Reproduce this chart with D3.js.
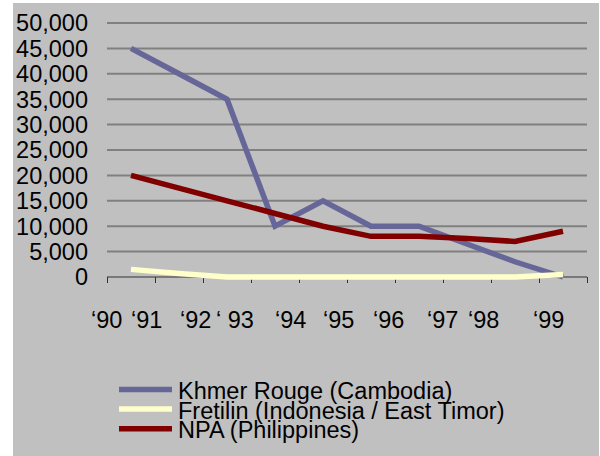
<!DOCTYPE html>
<html>
<head>
<meta charset="utf-8">
<script src="https://cdn.jsdelivr.net/npm/d3@7"></script>
<style>
  body { margin: 0; background: #fff; }
  text { font-family: "Liberation Sans", Arial, sans-serif; fill: #000; }
</style>
</head>
<body>
<div id="wrapper"></div>
<script>
/// Data ///
const categories = ["1990", "1991", "1992", "1993", "1994", "1995", "1996", "1997", "1998", "1999"];
const khmerRouge = [45000, 40000, 35000, 10000, 15000, 10000, 10000, 6500, 3000, 0];
const fretilin   = [1500, 700, 0, 0, 0, 0, 0, 0, 0, 500];
const npa        = [20000, 17500, 15000, 12500, 10000, 8000, 8000, 7600, 7000, 9000];
const seriesNames = ["Khmer Rouge (Cambodia)", "Fretilin (Indonesia / East Timor)", "NPA (Philippines)"];
const yTicks = [0, 5000, 10000, 15000, 20000, 25000, 30000, 35000, 40000, 45000, 50000];
const xLabels = ["\u201890", "\u201891", "\u201892", "\u2018 93", "\u201894", "\u201895", "\u201896", "\u201897", "\u201898", "\u201899"];

/// Layout ///
const width = 600;
const height = 456;
const plot = { left: 107, right: 587, top: 23, bottom: 277 };
// the year labels sit in a text box that doesn't line up with the ticks
const xLabelLeft = [91, 131, 180, 216, 275, 323, 373, 427, 468, 533];
const colours = ["#666699", "#ffffcc", "#800000"];
const fontSize = 23.5;

const svg = d3.select("#wrapper").append("svg")
  .attr("width", width)
  .attr("height", height);

svg.append("rect")
  .attr("x", 13).attr("y", 3)
  .attr("width", 586).attr("height", height - 3)
  .attr("fill", "#c0c0c0");

/// Scales ///
const x = d3.scaleBand()
  .domain(categories)
  .range([plot.left, plot.right]);
const y = d3.scaleLinear()
  .domain([0, 50000])
  .range([plot.bottom, plot.top]);

/// Gridlines ///
svg.append("g")
  .selectAll("line")
  .data(yTicks.filter(d => d > 0))
  .join("line")
    .attr("x1", plot.left).attr("x2", plot.right)
    .attr("y1", d => y(d)).attr("y2", d => y(d))
    .attr("stroke", "#808080")
    .attr("stroke-width", 2);

/// Y labels ///
svg.append("g")
  .selectAll("text")
  .data(yTicks)
  .join("text")
    .attr("x", 88)
    .attr("y", d => y(d))
    .attr("dy", "0.36em")
    .attr("text-anchor", "end")
    .style("font-size", fontSize + "px")
    .text(d3.format(","));

/// X axis ///
const tickXs = categories.map(c => x(c)).concat([x(categories[categories.length - 1]) + x.bandwidth()]);
const axis = svg.append("g");
axis.append("line")
  .attr("x1", plot.left).attr("x2", plot.right)
  .attr("y1", y(0)).attr("y2", y(0))
  .attr("stroke", "#333")
  .attr("stroke-width", 1);
axis.selectAll(".tick")
  .data(tickXs)
  .join("line")
    .attr("class", "tick")
    .attr("x1", d => Math.round(d) + 0.5).attr("x2", d => Math.round(d) + 0.5)
    .attr("y1", y(0)).attr("y2", y(0) + 6)
    .attr("stroke", "#333");

svg.append("g")
  .selectAll("text")
  .data(xLabels)
  .join("text")
    .attr("x", (d, i) => xLabelLeft[i])
    .attr("y", 328)
    .style("font-size", fontSize + "px")
    .text(d => d);

/// Lines ///
const line = d3.line()
  .x((d, i) => x(categories[i]) + x.bandwidth() / 2)
  .y(d => y(d));

svg.append("g")
  .selectAll("path")
  .data([khmerRouge, fretilin, npa])
  .join("path")
    .attr("d", line)
    .attr("fill", "none")
    .attr("stroke", (d, i) => colours[i])
    .attr("stroke-width", 5.5);

/// Legend ///
const legend = svg.append("g")
  .selectAll("g")
  .data(seriesNames)
  .join("g")
    .attr("transform", (d, i) => `translate(0, ${389.5 + i * 19.6})`);
legend.append("line")
  .attr("x1", 119).attr("x2", 172)
  .attr("stroke", (d, i) => colours[i])
  .attr("stroke-width", 5.5);
legend.append("text")
  .attr("x", 178)
  .attr("y", 9.5)
  .style("font-size", fontSize + "px")
  .text(d => d);
</script>
</body>
</html>
